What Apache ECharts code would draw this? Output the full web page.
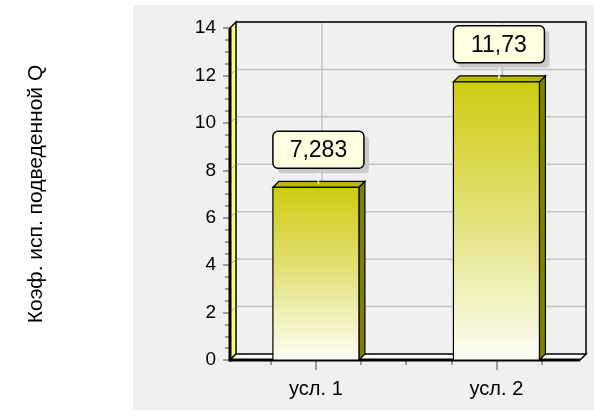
<!DOCTYPE html>
<html>
<head>
<meta charset="utf-8">
<script src="https://cdn.jsdelivr.net/npm/echarts@6/dist/echarts.min.js"></script>
<style>
  html, body { margin: 0; padding: 0; background: #ffffff; }
  #chart { width: 594px; height: 416px; }
</style>
</head>
<body>
<div id="chart"></div>
<script>
// Data
var categories = ['усл. 1', 'усл. 2'];
var values = [7.283, 11.73];
var yTicks = [0, 2, 4, 6, 8, 10, 12, 14];
var axisTitle = 'Коэф. исп. подведенной Q';

// Category slots on a numeric x scale (1, 2)
var xPos = categories.map(function (c, i) { return i + 1; });
var xMin = 0.524, xMax = 2.463;
var minorX = [0.75, 1.25, 1.5, 1.75, 2.25];
var yMax = 14;

var FONT = '"Liberation Sans", Arial, sans-serif';
var DEPTH = 6;          // 3D offset (px) toward the back wall
var BAR_UNITS = 0.4765; // bar width in x-scale units

function fmt(v) { return String(v).replace('.', ','); }

var chart = echarts.init(document.getElementById('chart'), null, { renderer: 'canvas' });

// Frame: back wall grid, left wall, floor
function renderFrame(params, api) {
  var d = DEPTH;
  var bl = api.coord([xMin, 0]);
  var br = api.coord([xMax, 0]);
  var tl = api.coord([xMin, yMax]);
  var x0 = bl[0], x1 = br[0], yb = bl[1], yt = tl[1];
  var children = [];
  var gridStyle = { stroke: '#c4c4c4', lineWidth: 1.5 };

  // horizontal grid lines on the back wall
  yTicks.forEach(function (t) {
    if (t === 0) return;
    var y = api.coord([xMin, t])[1];
    children.push({ type: 'line', shape: { x1: x0 + d, y1: y - d, x2: x1 + d, y2: y - d }, style: gridStyle });
  });
  // vertical grid lines at categories
  xPos.forEach(function (xv) {
    var x = api.coord([xv, 0])[0];
    children.push({ type: 'line', shape: { x1: x + d, y1: yt - d, x2: x + d, y2: yb - d }, style: gridStyle });
  });
  // back wall top + right edges
  children.push({ type: 'polyline', shape: { points: [[x0 + d, yt - d], [x1 + d, yt - d], [x1 + d, yb - d]] },
    style: { stroke: '#000', lineWidth: 1.5, fill: null } });
  // left wall
  children.push({ type: 'polygon', shape: { points: [[x0, yt], [x0 + d, yt - d], [x0 + d, yb - d], [x0, yb]] },
    style: { fill: '#ffff80', stroke: '#000', lineWidth: 1.5 } });
  yTicks.forEach(function (t) {
    if (t === 0 || t === yMax) return;
    var y = api.coord([xMin, t])[1];
    children.push({ type: 'line', shape: { x1: x0, y1: y, x2: x0 + d, y2: y - d }, style: { stroke: '#a0a0a0', lineWidth: 1 } });
  });
  // floor
  children.push({ type: 'polygon', shape: { points: [[x0, yb], [x0 + d, yb - d], [x1 + d, yb - d], [x1, yb]] },
    style: { fill: '#ffffff', stroke: '#000', lineWidth: 1.5 } });
  // front edges
  children.push({ type: 'line', shape: { x1: x0, y1: yb, x2: x1, y2: yb }, style: { stroke: '#000', lineWidth: 3 } });
  children.push({ type: 'line', shape: { x1: x0, y1: yt, x2: x0, y2: yb + 1.5 }, style: { stroke: '#000', lineWidth: 3 } });
  return { type: 'group', children: children };
}

// 3D bars with value callouts
function renderBar(params, api) {
  var d = DEPTH;
  var xv = api.value(0), v = api.value(1);
  var top = api.coord([xv, v]);
  var base = api.coord([xv, 0]);
  var w = api.size([BAR_UNITS, 0])[0];
  var left = top[0] - w / 2, right = left + w;
  var ty = top[1], by = base[1];
  var boxW = 91, boxH = 37, gap = 19;
  var boxY = ty - gap - boxH;
  var cx = left + boxW / 2;
  return {
    type: 'group',
    children: [
      { type: 'polygon', shape: { points: [[right, ty], [right + d, ty - d], [right + d, by - d], [right, by]] },
        style: { fill: '#7f7f00', stroke: '#000', lineWidth: 1.2 } },
      { type: 'polygon', shape: { points: [[left, ty], [left + d, ty - d], [right + d, ty - d], [right, ty]] },
        style: { fill: '#b8b800', stroke: '#000', lineWidth: 1.2 } },
      { type: 'rect', shape: { x: left, y: ty, width: w, height: by - ty },
        style: {
          fill: new echarts.graphic.LinearGradient(0, 0, 0, 1, [
            { offset: 0, color: '#cccc10' },
            { offset: 0.5, color: '#e2e27c' },
            { offset: 1, color: '#fdfdf6' }
          ]),
          stroke: '#000', lineWidth: 1.2 } },
      { type: 'line', shape: { x1: cx, y1: boxY + boxH, x2: cx, y2: ty - d / 2 },
        style: { stroke: '#ffffff', lineWidth: 1.5 } },
      { type: 'rect', shape: { x: left + 5, y: boxY + 5, width: boxW, height: boxH, r: 4 },
        style: { fill: '#cacaca' } },
      { type: 'rect', shape: { x: left, y: boxY, width: boxW, height: boxH, r: 5 },
        style: { fill: '#ffffe2', stroke: '#000', lineWidth: 1.5 } },
      { type: 'text', x: cx, y: boxY + boxH / 2 + 1,
        style: { text: fmt(v), fill: '#000', font: '23px ' + FONT, align: 'center', verticalAlign: 'middle' } }
    ]
  };
}

var option = {
  backgroundColor: '#ffffff',
  animation: false,
  graphic: [
    { type: 'rect', z: -10, shape: { x: 133, y: 5, width: 461, height: 405 }, style: { fill: '#f0f0f0' } }
  ],
  grid: { left: 230, top: 28, width: 350, height: 332 },
  xAxis: [
    {
      type: 'value', min: xMin, max: xMax,
      axisLine: { show: false },
      splitLine: { show: false },
      axisTick: { show: true, customValues: xPos, length: 10, lineStyle: { color: '#808080', width: 1.5 } },
      axisLabel: {
        show: true, customValues: xPos, margin: 19,
        color: '#000', fontSize: 20, fontFamily: FONT,
        formatter: function (val) { return categories[Math.round(val) - 1] || ''; }
      }
    },
    {
      type: 'value', min: xMin, max: xMax, position: 'bottom',
      axisLine: { show: false },
      splitLine: { show: false },
      axisTick: { show: true, customValues: minorX, length: 5, lineStyle: { color: '#808080', width: 1.5 } },
      axisLabel: { show: false }
    }
  ],
  yAxis: {
    type: 'value', min: 0, max: yMax, interval: 2,
    name: axisTitle, nameLocation: 'middle', nameGap: 183, nameRotate: 90,
    nameTextStyle: { color: '#000', fontSize: 21, fontFamily: FONT },
    axisLine: { show: false },
    splitLine: { show: false },
    axisTick: { show: true, length: 7, lineStyle: { color: '#808080', width: 1.5 } },
    minorTick: { show: true, splitNumber: 4, length: 5, lineStyle: { color: '#808080', width: 1.5 } },
    axisLabel: { color: '#000', fontSize: 19, fontFamily: FONT, margin: 14 }
  },
  series: [
    {
      type: 'custom', name: 'frame', z: 1, silent: true,
      renderItem: renderFrame,
      data: [[xMin, 0]],
      encode: { x: 0, y: 1 }
    },
    {
      type: 'custom', name: 'bars', z: 3,
      renderItem: renderBar,
      data: xPos.map(function (x, i) { return [x, values[i]]; }),
      encode: { x: 0, y: 1 }
    }
  ]
};

chart.setOption(option);
</script>
</body>
</html>
